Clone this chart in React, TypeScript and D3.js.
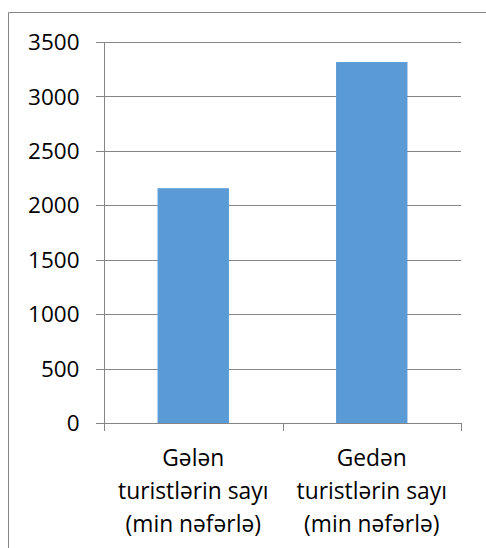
import React from "react";
import * as d3 from "d3";

const categories: string[][] = [
  ["Gələn", "turistlərin sayı", "(min nəfərlə)"],
  ["Gedən", "turistlərin sayı", "(min nəfərlə)"],
];
const values: number[] = [2157, 3316];
const yTicks: number[] = [0, 500, 1000, 1500, 2000, 2500, 3000, 3500];

const W = 486;
const H = 548;
const plot = { left: 104, right: 461, top: 42, bottom: 423 };
const barColor = "#5B9BD5";
const lineColor = "#868686";
const font = "'Open Sans', sans-serif";

export default function App() {
  const x = d3
    .scaleBand<number>()
    .domain(categories.map((_, i) => i))
    .range([plot.left, plot.right])
    .paddingInner(0.6)
    .paddingOuter(0.3);
  const y = d3.scaleLinear().domain([0, 3500]).range([plot.bottom, plot.top]);
  const step = x.step();
  const boundaries = d3.range(categories.length + 1).map((i) => plot.left + i * step);

  return (
    <svg
      width={W}
      height={H}
      style={{ position: "absolute", left: 0, top: 0, background: "#fff" }}
    >
      {/* chart frame (cropped on the right and bottom) */}
      <path d={`M8.5,${H} V12.5 H${W}`} fill="none" stroke={lineColor} strokeWidth={1} />

      {/* horizontal gridlines with tick stubs */}
      {yTicks.map((t) => (
        <line
          key={t}
          x1={plot.left - 8}
          x2={plot.right}
          y1={Math.round(y(t)) + 0.5}
          y2={Math.round(y(t)) + 0.5}
          stroke={lineColor}
          strokeWidth={1}
        />
      ))}

      {/* bars */}
      {values.map((v, i) => (
        <rect
          key={i}
          x={x(i)}
          y={y(v)}
          width={x.bandwidth()}
          height={y(0) - y(v)}
          fill={barColor}
        />
      ))}

      {/* value axis line */}
      <line
        x1={plot.left + 0.5}
        x2={plot.left + 0.5}
        y1={plot.top}
        y2={plot.bottom}
        stroke={lineColor}
        strokeWidth={1}
      />
      {/* category tick marks */}
      {boundaries.map((bx, i) => (
        <line
          key={i}
          x1={Math.round(bx) + 0.5}
          x2={Math.round(bx) + 0.5}
          y1={plot.bottom}
          y2={plot.bottom + 8}
          stroke={lineColor}
          strokeWidth={1}
        />
      ))}

      {/* value tick labels */}
      {yTicks.map((t) => (
        <text
          key={t}
          x={79.5}
          y={y(t)}
          dy="0.36em"
          textAnchor="end"
          fontFamily={font}
          fontSize={22.5}
          fill="#000"
        >
          {t}
        </text>
      ))}

      {/* category labels */}
      {categories.map((lines, i) => (
        <text
          key={i}
          x={(x(i) as number) + x.bandwidth() / 2}
          y={466}
          textAnchor="middle"
          fontFamily={font}
          fontSize={22.8}
          fill="#000"
        >
          {lines.map((ln, j) => (
            <tspan key={j} x={(x(i) as number) + x.bandwidth() / 2} dy={j === 0 ? 0 : 33}>
              {ln}
            </tspan>
          ))}
        </text>
      ))}
    </svg>
  );
}
